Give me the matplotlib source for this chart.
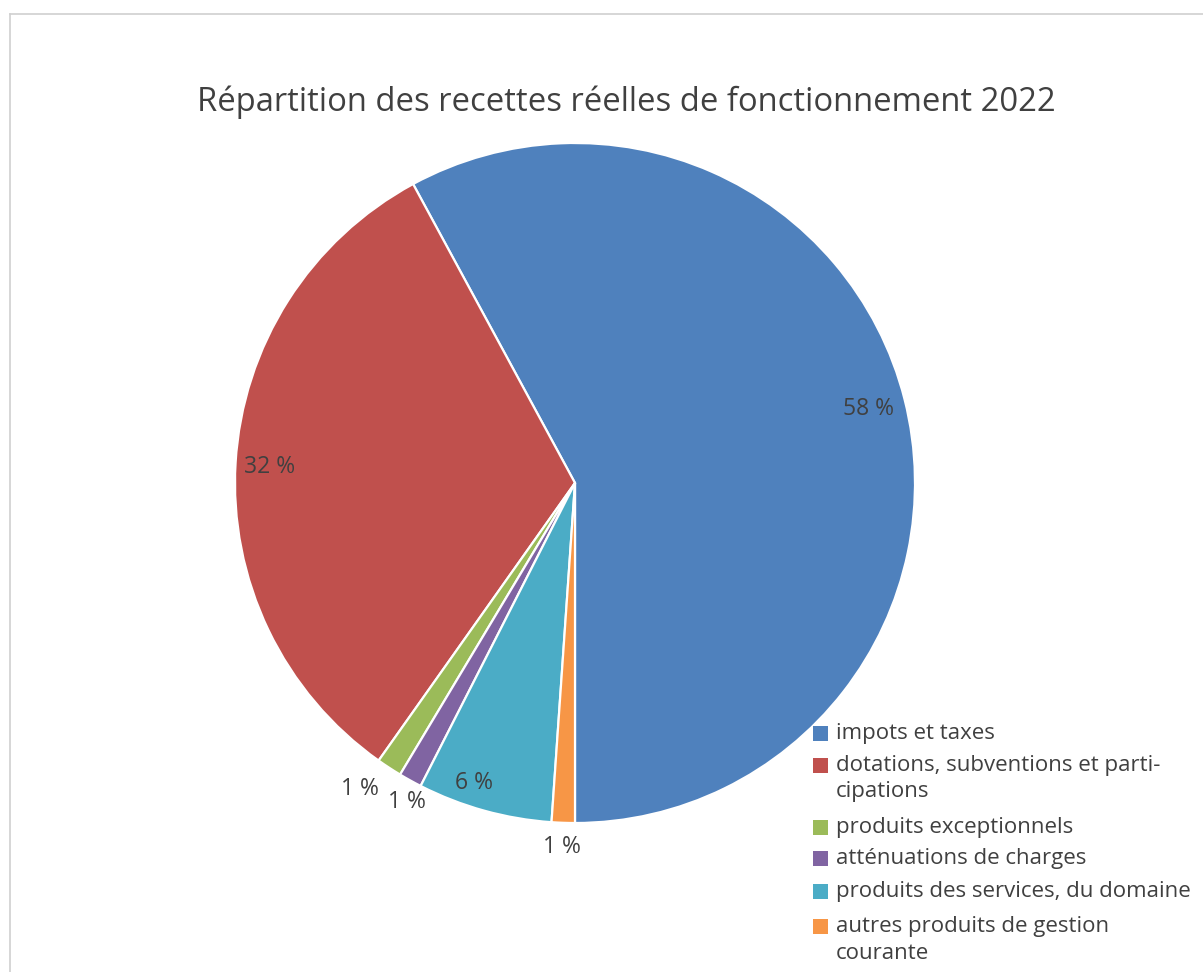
import matplotlib
matplotlib.use("Agg")
import matplotlib.pyplot as plt
import numpy as np
from matplotlib.patches import Rectangle
from matplotlib.lines import Line2D

plt.rcParams['font.family'] = ['Open Sans', 'DejaVu Sans']

title = "Répartition des recettes réelles de fonctionnement 2022"
categories = [
    "impots et taxes",
    "dotations, subventions et participations",
    "produits exceptionnels",
    "atténuations de charges",
    "produits des services, du domaine",
    "autres produits de gestion courante",
]
legend_labels = [
    "impots et taxes",
    "dotations, subventions et parti-\ncipations",
    "produits exceptionnels",
    "atténuations de charges",
    "produits des services, du domaine",
    "autres produits de gestion\ncourante",
]
shares = [57.9, 32.3, 1.2, 1.1, 6.4, 1.1]
colors = ["#4F81BD", "#C0504D", "#9BBB59", "#8064A2", "#4BACC6", "#F79646"]

W, H = 1203, 972
TEXT = "#404040"
fig = plt.figure(figsize=(W / 100, H / 100), dpi=100)


def fx(x):
    return x / W


def fy(y):
    return 1 - y / H


# chart frame (light grey border)
fig.add_artist(Line2D([fx(10), fx(10)], [fy(14), 0], color="#D0D0D0", lw=1.2))
fig.add_artist(Line2D([fx(10), 1], [fy(14), fy(14)], color="#D0D0D0", lw=1.2))

cx, cy, R = 575, 483, 340
ax = fig.add_axes([fx(cx - R), fy(cy + R), 2 * R / W, 2 * R / H])
wedges, _ = ax.pie(shares, colors=colors, startangle=270, counterclock=True,
                   wedgeprops=dict(edgecolor="white", linewidth=1.6))
ax.set_xlim(-1, 1)
ax.set_ylim(-1, 1)
ax.set_aspect("equal")
ax.axis("off")

# percentage labels
total = sum(shares)
label_dist = [0.89, 0.90, 1.10, 1.06, 0.93, 1.07]
angle_shift = [0, 0.5, -2.0, 1.2, -3.2, 0]
for w, v, d, s in zip(wedges, shares, label_dist, angle_shift):
    ang = np.deg2rad((w.theta1 + w.theta2) / 2 + s)
    ax.text(d * np.cos(ang), d * np.sin(ang), f"{round(v / total * 100)} %",
            ha="center", va="center", fontsize=16.5, color=TEXT)

fig.text(fx(626), fy(102), title, ha="center", va="center", fontsize=23.6, color=TEXT)

# legend: square key aligned with the first line of each entry
rows = [733, 765, 827, 858, 891, 926]
line_step = 27
for lab, col, y in zip(legend_labels, colors, rows):
    fig.add_artist(Rectangle((fx(813), fy(y + 8)), 15 / W, 15 / H,
                             facecolor=col, edgecolor="none"))
    for i, part in enumerate(lab.split("\n")):
        fig.text(fx(836), fy(y + i * line_step), part, ha="left", va="center",
                 fontsize=16, color=TEXT)

fig.savefig("out.png", dpi=100)
